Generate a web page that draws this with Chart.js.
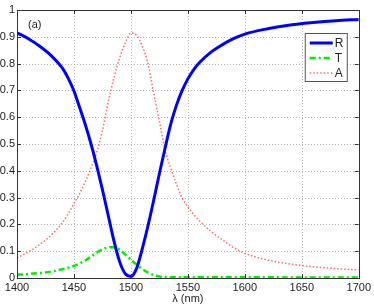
<!DOCTYPE html>
<html>
<head>
<meta charset="utf-8">
<script src="https://cdn.jsdelivr.net/npm/chart.js@4"></script>
<style>
  html, body { margin: 0; padding: 0; background: #fff; }
  #wrap { width: 374px; height: 308px; }
</style>
</head>
<body>
<div id="wrap"><canvas id="spectrum"></canvas></div>
<script>
// wavelength grid (nm) and the three curves
const wavelength = [1400, 1410, 1420, 1430, 1440, 1445, 1450, 1455, 1460, 1465, 1470, 1475, 1480, 1485, 1490, 1495, 1500,
                    1505, 1510, 1515, 1520, 1525, 1530, 1535, 1540, 1545, 1550, 1555, 1560, 1570, 1580, 1590, 1600, 1620,
                    1640, 1660, 1680, 1700];
const reflect = [0.915, 0.893, 0.865, 0.83, 0.782, 0.745, 0.698, 0.636, 0.572, 0.5, 0.418, 0.33, 0.235, 0.14, 0.062, 0.016, 0.006,
                 0.036, 0.11, 0.195, 0.29, 0.39, 0.485, 0.575, 0.645, 0.7, 0.743, 0.777, 0.803, 0.842, 0.87, 0.893, 0.91, 0.93,
                 0.944, 0.953, 0.96, 0.965];
const transmit = [0.012, 0.015, 0.019, 0.024, 0.033, 0.038, 0.045, 0.054, 0.066, 0.08, 0.095, 0.107, 0.114, 0.115, 0.106, 0.088, 0.068,
                  0.05, 0.033, 0.02, 0.011, 0.006, 0.004, 0.003, 0.003, 0.003, 0.003, 0.003, 0.003, 0.003, 0.003, 0.003, 0.003, 0.003,
                  0.002, 0.002, 0.002, 0.002];
const absorb = [0.075, 0.097, 0.125, 0.16, 0.207, 0.24, 0.278, 0.315, 0.36, 0.41, 0.47, 0.55, 0.655, 0.745, 0.82, 0.877, 0.914,
                0.905, 0.865, 0.8, 0.69, 0.585, 0.477, 0.41, 0.35, 0.298, 0.265, 0.238, 0.214, 0.175, 0.143, 0.114, 0.092, 0.067,
                0.052, 0.042, 0.035, 0.03];
const xTicks = [1400, 1450, 1500, 1550, 1600, 1650, 1700];
const xTickLabels = ["1400", "1450", "1500", "1550", "1600", "1650", "1700"];
const yTicks = [0, 0.1, 0.2, 0.3, 0.4, 0.5, 0.6, 0.7, 0.8, 0.9, 1];
const yTickLabels = ["0", "0.1", "0.2", "0.3", "0.4", "0.5", "0.6", "0.7", "0.8", "0.9", "1"];

const pts = ys => wavelength.map((w, i) => ({ x: w, y: ys[i] }));
const FONT = "'Liberation Sans', Arial, sans-serif";

// dotted grid under the curves
const dottedGrid = {
    id: "dottedGrid",
    beforeDatasetsDraw(chart) {
        const ctx = chart.ctx;
        const a = chart.chartArea;
        const sx = chart.scales.x, sy = chart.scales.y;
        ctx.save();
        ctx.strokeStyle = "#b4b4b4";
        ctx.lineWidth = 1;
        ctx.setLineDash([1, 2]);
        ctx.beginPath();
        xTicks.forEach(t => {
            const px = Math.round(sx.getPixelForValue(t)) + 0.5;
            ctx.moveTo(px, a.top); ctx.lineTo(px, a.bottom);
        });
        yTicks.forEach(t => {
            const py = Math.round(sy.getPixelForValue(t)) + 0.5;
            ctx.moveTo(a.left, py); ctx.lineTo(a.right, py);
        });
        ctx.stroke();
        ctx.restore();
    }
};

// matlab style box, inward ticks, panel tag and legend
const matlabBox = {
    id: "matlabBox",
    afterDraw(chart) {
        const ctx = chart.ctx;
        const a = chart.chartArea;
        const sx = chart.scales.x, sy = chart.scales.y;
        ctx.save();
        ctx.strokeStyle = "#333";
        ctx.lineWidth = 1;
        ctx.beginPath();
        xTicks.forEach(t => {
            const px = Math.round(sx.getPixelForValue(t)) + 0.5;
            ctx.moveTo(px, a.bottom); ctx.lineTo(px, a.bottom - 4);
            ctx.moveTo(px, a.top); ctx.lineTo(px, a.top + 4);
        });
        yTicks.forEach(t => {
            const py = Math.round(sy.getPixelForValue(t)) + 0.5;
            ctx.moveTo(a.left, py); ctx.lineTo(a.left + 4, py);
            ctx.moveTo(a.right, py); ctx.lineTo(a.right - 4, py);
        });
        ctx.stroke();
        ctx.strokeRect(Math.round(a.left) + 0.5, Math.round(a.top) + 0.5,
                       Math.round(a.right - a.left), Math.round(a.bottom - a.top));

        ctx.fillStyle = "#222";
        ctx.font = "11px " + FONT;
        ctx.textBaseline = "middle";
        ctx.textAlign = "left";
        ctx.fillText("(a)", a.left + 11, a.top + 15);

        // legend
        const bx = a.right - 54, by = a.top + 23, bw = 42, bh = 48;
        ctx.fillStyle = "#fff";
        ctx.fillRect(bx, by, bw, bh);
        ctx.strokeStyle = "#555";
        ctx.strokeRect(bx + 0.5, by + 0.5, bw, bh);
        chart.data.datasets.forEach((ds, i) => {
            const ly = by + 10 + i * 15;
            ctx.save();
            ctx.strokeStyle = ds.borderColor;
            ctx.lineWidth = ds.borderWidth;
            ctx.setLineDash(ds.borderDash || []);
            ctx.beginPath();
            ctx.moveTo(bx + 5, ly); ctx.lineTo(bx + 28, ly);
            ctx.stroke();
            ctx.restore();
            ctx.fillStyle = "#222";
            ctx.font = "12px " + FONT;
            ctx.fillText(ds.label, bx + 30, ly + 1);
        });
        ctx.restore();
    }
};

new Chart(document.getElementById("spectrum"), {
    type: "line",
    data: {
        datasets: [{
            label: "R",
            data: pts(reflect),
            borderColor: "#0000ff",
            borderWidth: 3
        }, {
            label: "T",
            data: pts(transmit),
            borderColor: "#00ee00",
            borderWidth: 2.5,
            borderDash: [6, 3, 2, 3]
        }, {
            label: "A",
            data: pts(absorb),
            borderColor: "rgba(255, 40, 40, 0.7)",
            borderWidth: 1.5,
            borderDash: [1.5, 2]
        }]
    },
    options: {
        responsive: true,
        maintainAspectRatio: false,
        animation: false,
        layout: { padding: { top: 10, right: 15, left: 0, bottom: 0 } },
        elements: {
            point: { radius: 0 },
            line: { cubicInterpolationMode: "monotone", fill: false }
        },
        plugins: { legend: { display: false }, tooltip: { enabled: false } },
        scales: {
            x: {
                type: "linear",
                min: 1400,
                max: 1700,
                afterBuildTicks: s => { s.ticks = xTicks.map(v => ({ value: v })); },
                afterFit: s => { s.height = 30; },
                ticks: {
                    padding: 3,
                    color: "#222",
                    font: { family: FONT, size: 11 },
                    callback: (v, i) => xTickLabels[i]
                },
                grid: { display: false, drawTicks: false },
                border: { display: false },
                title: {
                    display: true,
                    text: "λ (nm)",
                    color: "#222",
                    font: { family: FONT, size: 11 },
                    padding: { top: 0, bottom: 2 }
                }
            },
            y: {
                min: 0,
                max: 1,
                afterBuildTicks: s => { s.ticks = yTicks.map(v => ({ value: v })); },
                afterFit: s => { s.width = 17; },
                ticks: {
                    padding: 2,
                    color: "#222",
                    font: { family: FONT, size: 11 },
                    callback: (v, i) => yTickLabels[i]
                },
                grid: { display: false, drawTicks: false },
                border: { display: false }
            }
        }
    },
    plugins: [dottedGrid, matlabBox]
});
</script>
</body>
</html>
